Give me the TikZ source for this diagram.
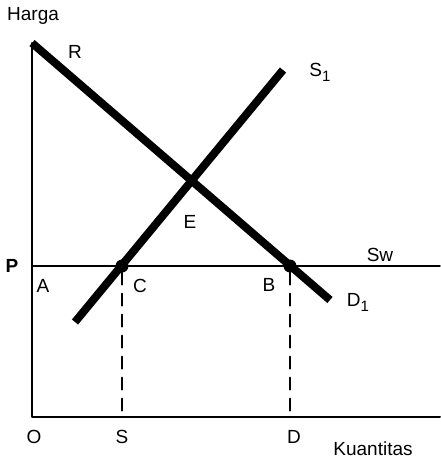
\documentclass[tikz,border=0pt]{standalone}
\usepackage{fontspec}
\setmainfont{Liberation Sans}
\begin{document}
\begin{tikzpicture}[x=1pt,y=-1pt,line join=round,line cap=round]
				\tikzset{every node/.style={font=\fontsize{19}{21}\selectfont,inner sep=0pt},
					kurva/.style={line width=8pt,line cap=butt},
					titik/.style={circle,fill=black,minimum size=13pt}}
				\useasboundingbox (0,0) rectangle (440,461);
				% sumbu
				\coordinate (O) at (32,417);
				\coordinate (R) at (32,43);
				\coordinate (X) at (440,417);
				\draw[line width=2pt] (R)--(O)--(X);
				\node at (7,16) [anchor=west] {Harga};
				\node at (373,449) {Kuantitas};
				\foreach \x/\nx in {34/O,122/S,294/D}
				\node at (\x,437) {\nx};
				% harga dunia
				\coordinate (P) at (32,266);
				\coordinate (Sw) at (440,266);
				\draw[line width=1.5pt] (P)--(Sw);
				\node at (12,266) {\textbf{P}};
				\node at (380,255) {Sw};
				% permintaan dan penawaran
				\coordinate (D1) at (330,300);
				\coordinate (S0) at (75,322);
				\coordinate (S1) at (283,70);
				\draw[kurva] (R)--(D1);
				\draw[kurva] (S0)--(S1);
				\node at (75,52) {R};
				\node at (320,72) {S\raisebox{-5pt}{\fontsize{15}{16}\selectfont 1}};
				\node at (358,302) {D\raisebox{-5pt}{\fontsize{15}{16}\selectfont 1}};
				\node at (190,222) {E};
				\node[titik] (C) at (122,266) {};
				\node[titik] (B) at (290,266) {};
				\node at (43,286) {A};
				\node at (140,286) {C};
				\node at (269,285) {B};
				\draw[line width=2pt,dash pattern=on 12pt off 9pt] (C)--(C|-O);
				\draw[line width=2pt,dash pattern=on 12pt off 9pt] (B)--(B|-O);
			\end{tikzpicture}
\end{document}
